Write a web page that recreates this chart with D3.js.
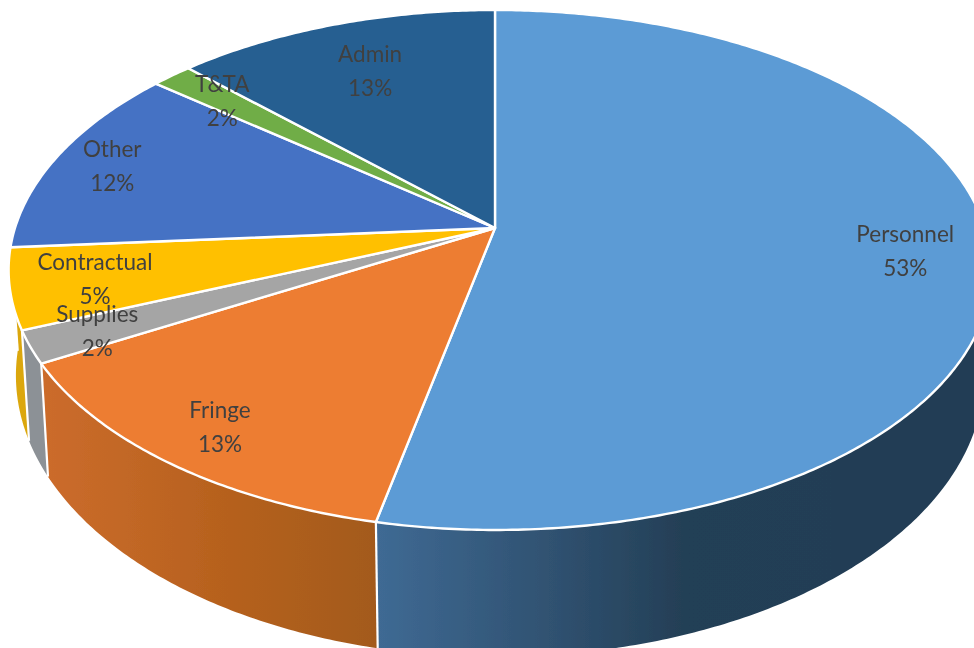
<!DOCTYPE html>
<html>
<head>
<meta charset="utf-8">
<script src="https://d3js.org/d3.v7.min.js"></script>
<style>
	html, body {margin: 0; padding: 0; background: #fff; overflow: hidden;}
	text {font-family: Lato, "Open Sans", sans-serif;}
</style>
</head>
<body>
<div id="graphicContainer"></div>
<script>

var categories = ["Personnel", "Fringe", "Supplies", "Contractual", "Other", "T&TA", "Admin"]
var shares = [53.35, 13.45, 2.0, 5.0, 12.0, 1.6, 12.6]
var topColors = ["#5b9bd5", "#ed7d31", "#a5a5a5", "#ffc000", "#4472c4", "#70ad47", "#255e91"]
var wallColors = [["#3f6a94", "#243f56", "#223d54"], ["#cc6c2c", "#b8621f", "#a35a1f"], ["#8c9196", "#8c9196", "#8c9196"], ["#dba70c", "#dba70c", "#dba70c"], ["#365b9c", "#365b9c", "#365b9c"], ["#5a8a39", "#5a8a39", "#5a8a39"], ["#1e4c75", "#1e4c75", "#1e4c75"]]

var width = 974
var height = 648

// the pie is tipped towards us, so the plate is a perspective view of a circle
var centre = {x: 495, y: 228}
var tilt = 0.1615
var radiusLeft = 480
var radiusRight = 490
var radiusDepth = 253.2

// the underside is the same circle, a little lower and narrower
var floor = {y: 330, xScale: 0.985, depth: 274}

// how far out each label sits, as a share of the radius
var labelRadius = {"Personnel": 0.83, "Fringe": 0.86, "Supplies": 0.865, "Contractual": 0.83, "Other": 0.87, "T&TA": 0.83, "Admin": 0.75}

function project(angle, r, plate) {
	var u = Math.sin(angle) * r
	var v = -Math.cos(angle) * r
	var w = 1 - tilt * v
	var xr = u < 0 ? radiusLeft : radiusRight
	if (plate === "floor") {
		return [centre.x + floor.xScale * xr * u / w, floor.y + floor.depth * v / w]
	}
	return [centre.x + xr * u / w, centre.y + radiusDepth * v / w]
}

function arcPoints(start, end, plate) {
	var steps = Math.max(2, Math.ceil((end - start) / 0.01))
	return d3.range(steps + 1).map(function(i) {
		return project(start + (end - start) * i / steps, 1, plate)
	})
}

var svg = d3.select("#graphicContainer").append("svg")
			.attr("width", width)
			.attr("height", height)
			.style("display", "block")

var defs = svg.append("defs")

defs.append("filter")
	.attr("id", "soft")
	.attr("x", "-5%").attr("y", "-5%").attr("width", "110%").attr("height", "110%")
	.append("feGaussianBlur")
	.attr("stdDeviation", 0.45)

var pie = d3.pie().sort(null).value(d => d)
var slices = pie(shares)

var line = d3.line()

// only this stretch of the rim faces the viewer
var wallStart = Math.PI * 0.42
var wallEnd = Math.PI * 1.478

var features = svg.append("g").attr("filter", "url(#soft)")
var walls = features.append("g")

slices.forEach(function(d, i) {
	var a0 = Math.max(d.startAngle, wallStart)
	var a1 = Math.min(d.endAngle, wallEnd)
	if (a1 <= a0) {
		return
	}

	var topEdge = arcPoints(a0, a1, "top")
	var floorEdge = arcPoints(a0, a1, "floor")

	var grad = defs.append("linearGradient")
		.attr("id", "wall" + i)
		.attr("gradientUnits", "userSpaceOnUse")
		.attr("x1", d3.min(topEdge, p => p[0]))
		.attr("x2", d3.max(topEdge, p => p[0]))
		.attr("y1", 0)
		.attr("y2", 0)

	grad.append("stop").attr("offset", "0%").attr("stop-color", wallColors[i][0])
	grad.append("stop").attr("offset", "50%").attr("stop-color", wallColors[i][1])
	grad.append("stop").attr("offset", "100%").attr("stop-color", wallColors[i][2])

	walls.append("path")
		.attr("d", line(topEdge.concat(floorEdge.reverse())) + "Z")
		.attr("fill", "url(#wall" + i + ")")
})

// white seams down the wall
slices.forEach(function(d) {
	if (d.endAngle > wallStart && d.endAngle < wallEnd) {
		walls.append("path")
			.attr("d", line([project(d.endAngle, 1, "top"), project(d.endAngle, 1, "floor")]))
			.attr("stroke", "#fff")
			.attr("stroke-width", 2.2)
			.attr("fill", "none")
	}
})

features.append("g")
	.selectAll("path")
	.data(slices)
	.enter()
	.append("path")
	.attr("class", "slice")
	.attr("fill", (d, i) => topColors[i])
	.attr("stroke", "#fff")
	.attr("stroke-width", 2.4)
	.attr("stroke-linejoin", "round")
	.attr("d", function(d) {
		var rim = arcPoints(d.startAngle, d.endAngle, "top")
		return line([[centre.x, centre.y]].concat(rim)) + "Z"
	})

var labels = svg.append("g").attr("filter", "url(#soft)")

slices.forEach(function(d, i) {
	var mid = (d.startAngle + d.endAngle) / 2
	var p = project(mid, labelRadius[categories[i]], "top")

	var label = labels.append("text")
		.attr("x", p[0])
		.attr("y", p[1])
		.attr("text-anchor", "middle")
		.attr("font-size", 22.5)
		.attr("fill", "#404040")

	label.append("tspan")
		.attr("x", p[0])
		.attr("dy", -8)
		.text(categories[i])

	label.append("tspan")
		.attr("x", p[0])
		.attr("dy", 34)
		.text(Math.round(d.value) + "%")
})

</script>
</body>
</html>
